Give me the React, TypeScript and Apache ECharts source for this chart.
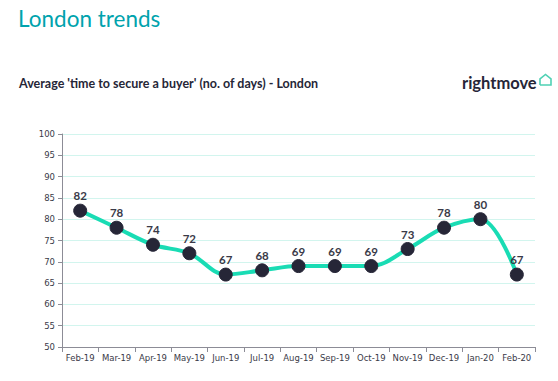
import React, { useEffect, useRef } from "react";
import * as echarts from "echarts";

const categories = ["Feb-19", "Mar-19", "Apr-19", "May-19", "Jun-19", "Jul-19", "Aug-19", "Sep-19", "Oct-19", "Nov-19", "Dec-19", "Jan-20", "Feb-20"];
const days = [82, 78, 74, 72, 67, 68, 69, 69, 69, 73, 78, 80, 67];
const titleText = "London trends";
const subtitleText = "Average 'time to secure a buyer' (no. of days) - London";
const brandText = "rightmove";

export default function App() {
  const ref = useRef<HTMLDivElement>(null);
  useEffect(() => {
    if (!ref.current) return;
    const chart = echarts.init(ref.current, null, { renderer: "svg" });
    chart.setOption({
      animation: false,
      backgroundColor: "#ffffff",
      grid: { left: 62, right: 23, top: 134, bottom: 34, containLabel: false },
      graphic: [
        { type: "text", left: 18, top: 7, style: { text: titleText, fill: "#00a3ad", font: "400 22.5px Lato" } },
        { type: "text", left: 19, top: 77, style: { text: subtitleText, fill: "#262637", font: "700 12.5px Lato" } },
        { type: "text", left: 462, top: 74, style: { text: brandText, fill: "#262637", font: "700 16.5px Lato" } },
        {
          type: "polyline",
          shape: { points: [[540, 85], [540, 79], [545.5, 74.5], [551, 79], [551, 85], [540, 85]] },
          style: { stroke: "#4fd1b4", lineWidth: 1.6, fill: "none" },
        },
      ],
      xAxis: {
        type: "category",
        data: categories,
        boundaryGap: true,
        axisLine: { lineStyle: { color: "#8c8c96", width: 1 } },
        axisTick: { show: true, alignWithLabel: false, lineStyle: { color: "#8c8c96" } },
        axisLabel: { color: "#3a3a48", fontFamily: "DejaVu Sans", fontSize: 8.5, margin: 6, interval: 0 },
      },
      yAxis: {
        type: "value",
        min: 50,
        max: 100,
        interval: 5,
        axisLine: { show: true, lineStyle: { color: "#8c8c96", width: 1 } },
        axisTick: { show: true, length: 4, lineStyle: { color: "#8c8c96" } },
        axisLabel: { color: "#3a3a48", fontFamily: "DejaVu Sans", fontSize: 8.5, margin: 7 },
        splitLine: { show: true, lineStyle: { color: "#d2f5ee", width: 1 } },
      },
      series: [
        {
          type: "line",
          data: days,
          smooth: 0.35,
          symbol: "circle",
          symbolSize: 13,
          lineStyle: { color: "#19dcb4", width: 4 },
          itemStyle: { color: "#262637", borderColor: "#262637" },
          label: {
            show: true,
            position: "top",
            distance: 2,
            color: "#3a3a48",
            fontFamily: "Lato",
            fontWeight: 700,
            fontSize: 11.5,
          },
        },
      ],
    });
    return () => chart.dispose();
  }, []);
  return <div ref={ref} style={{ width: 558, height: 381, position: "absolute", left: 0, top: 0 }} />;
}
